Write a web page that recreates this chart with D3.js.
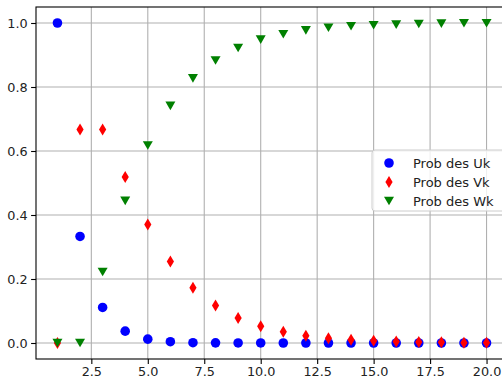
<!DOCTYPE html>
<html>
<head>
<meta charset="utf-8">
<script src="https://cdn.jsdelivr.net/npm/d3@7"></script>
<style>
  body { margin: 0; background: #fff; }
  svg { display: block; font-family: 'DejaVu Sans', sans-serif; }
</style>
</head>
<body>
<div class="chart"></div>
<script>
const ks = [1, 2, 3, 4, 5, 6, 7, 8, 9, 10, 11, 12, 13, 14, 15, 16, 17, 18, 19, 20];
const probU = [1.0, 0.333, 0.111, 0.037, 0.012, 0.004, 0.001, 0.0005, 0.0002, 0.0001,
  0, 0, 0, 0, 0, 0, 0, 0, 0, 0];
const probV = [0.0, 0.667, 0.667, 0.519, 0.370, 0.255, 0.173, 0.117, 0.078, 0.052,
  0.035, 0.023, 0.015, 0.010, 0.007, 0.005, 0.003, 0.002, 0.001, 0.001];
const probW = [0.0, 0.0, 0.222, 0.444, 0.617, 0.741, 0.827, 0.883, 0.922, 0.948,
  0.965, 0.977, 0.985, 0.990, 0.993, 0.995, 0.997, 0.998, 0.999, 0.999];
const xTicks = [2.5, 5.0, 7.5, 10.0, 12.5, 15.0, 17.5, 20.0];
const yTicks = [0.0, 0.2, 0.4, 0.6, 0.8, 1.0];
const seriesNames = ['Prob des Uk', 'Prob des Vk', 'Prob des Wk'];

const width = 502;
const height = 380;
const margin = { left: 36, top: 7, right: -6, bottom: 21 };

const svg = d3
  .select('div.chart')
  .append('svg')
  .attr('width', width)
  .attr('height', height);

const x = d3
  .scaleLinear()
  .domain([0.05, 20.95])
  .range([margin.left, width - margin.right]);

const y = d3
  .scaleLinear()
  .domain([-0.05, 1.05])
  .range([height - margin.bottom, margin.top]);

// grid
svg
  .append('g')
  .selectAll('line')
  .data(xTicks)
  .join('line')
  .attr('x1', (d) => x(d))
  .attr('x2', (d) => x(d))
  .attr('y1', margin.top)
  .attr('y2', height - margin.bottom)
  .attr('stroke', '#b0b0b0')
  .attr('stroke-width', 1.1);

svg
  .append('g')
  .selectAll('line')
  .data(yTicks)
  .join('line')
  .attr('x1', margin.left)
  .attr('x2', width - margin.right)
  .attr('y1', (d) => y(d))
  .attr('y2', (d) => y(d))
  .attr('stroke', '#b0b0b0')
  .attr('stroke-width', 1.1);

// axes
const xAxis = svg
  .append('g')
  .attr('transform', `translate(0,${height - margin.bottom})`)
  .call(
    d3.axisBottom(x).tickValues(xTicks).tickFormat(d3.format('.1f')).tickSize(4.9).tickPadding(3.5)
  );

const yAxis = svg
  .append('g')
  .attr('transform', `translate(${margin.left},0)`)
  .call(
    d3.axisLeft(y).tickValues(yTicks).tickFormat(d3.format('.1f')).tickSize(4.9).tickPadding(3.5)
  );

[xAxis, yAxis].forEach((g) => {
  g.select('.domain').remove();
  g.selectAll('line').attr('stroke', '#000').attr('stroke-width', 1.1);
  g.selectAll('text')
    .attr('fill', '#222')
    .style('font-family', "'DejaVu Sans', sans-serif")
    .style('font-size', '12.8px');
});

// spines
svg
  .append('rect')
  .attr('x', margin.left)
  .attr('y', margin.top)
  .attr('width', width - margin.right - margin.left)
  .attr('height', height - margin.bottom - margin.top)
  .attr('fill', 'none')
  .attr('stroke', '#000')
  .attr('stroke-width', 1.1);

// markers
const circleSym = d3.symbol().type(d3.symbolCircle).size(72);
const diamondPath = 'M0,-6 L3.6,0 L0,6 L-3.6,0 Z';
const trianglePath = 'M-5,-4.3 L5,-4.3 L0,4.3 Z';

const drawSeries = (values, path, color) => {
  svg
    .append('g')
    .selectAll('path')
    .data(values)
    .join('path')
    .attr('transform', (d, i) => `translate(${x(ks[i])},${y(d)})`)
    .attr('d', path)
    .attr('fill', color);
};

drawSeries(probU, circleSym(), 'blue');
drawSeries(probV, diamondPath, 'red');
drawSeries(probW, trianglePath, 'green');

// legend
const legend = svg.append('g').attr('transform', 'translate(372,150)');
legend
  .append('rect')
  .attr('x', 0)
  .attr('y', 0)
  .attr('width', 140)
  .attr('height', 61)
  .attr('rx', 3)
  .attr('fill', 'rgba(255,255,255,0.8)')
  .attr('stroke', '#cccccc')
  .attr('stroke-width', 1);

const legendPaths = [circleSym(), diamondPath, trianglePath];
const legendColors = ['blue', 'red', 'green'];

seriesNames.forEach((name, i) => {
  const ly = 13 + i * 19;
  legend
    .append('path')
    .attr('transform', `translate(17,${ly})`)
    .attr('d', legendPaths[i])
    .attr('fill', legendColors[i]);
  legend
    .append('text')
    .attr('x', 41)
    .attr('y', ly)
    .attr('dy', '0.35em')
    .attr('fill', '#222')
    .style('font-size', '13px')
    .text(name);
});
</script>
</body>
</html>
